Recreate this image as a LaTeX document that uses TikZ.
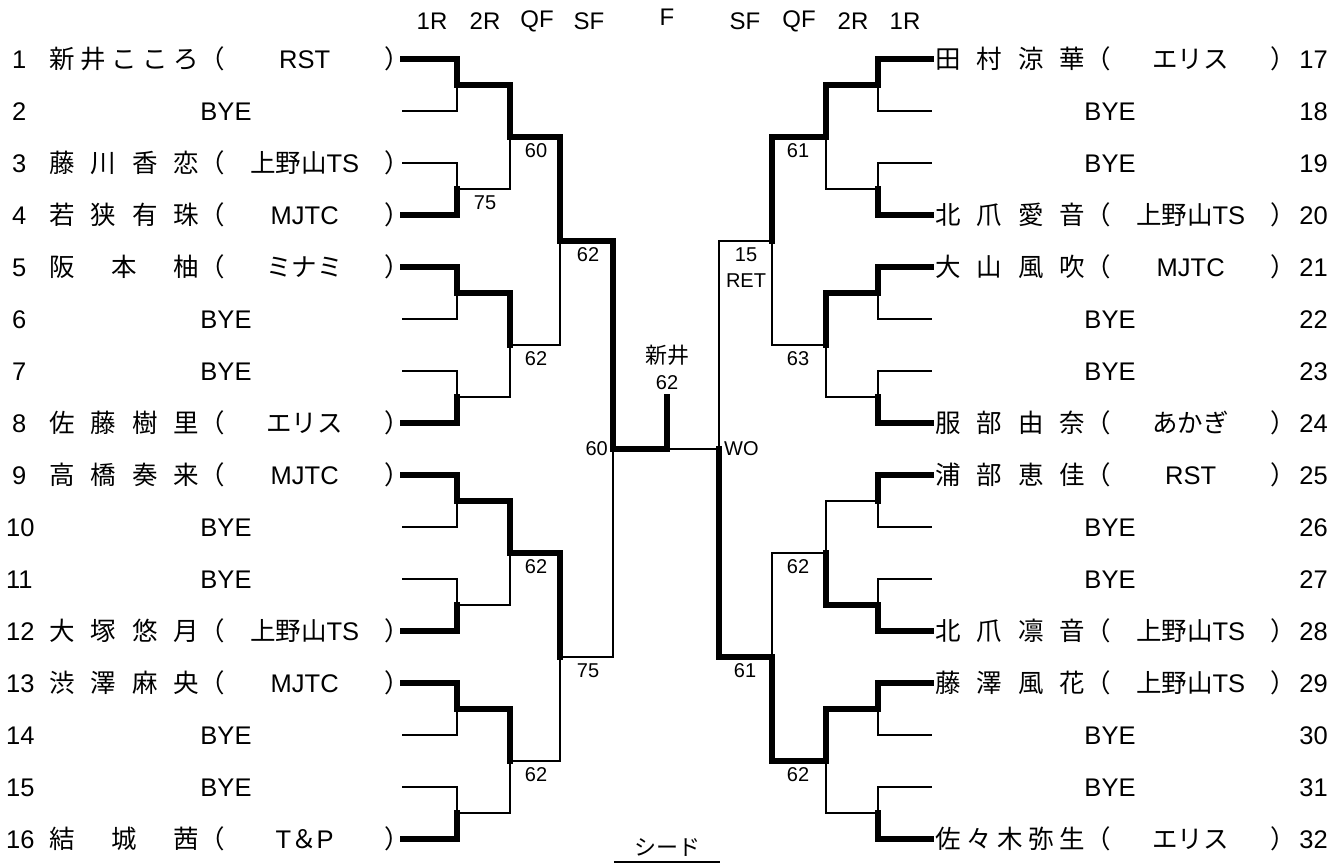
\documentclass[tikz,border=0pt]{standalone}
\usepackage{fontspec}
\setmainfont{Liberation Sans}
\newfontfamily\jp{Noto Sans CJK JP}

\newcommand{\entrytext}[2]{\makebox[150pt][s]{\jp\spaceskip=0pt plus 1fil #1}{\jp （}\makebox[160pt]{#2}{\jp ）}}
\newcommand{\bout}[3]{\draw[loseline] (#2) -| (#3); \draw[winline] (#1) -| (#3);}

\tikzset{
  winline/.style={line width=5.4pt, line cap=rect},
  loseline/.style={line width=2.2pt, line cap=rect},
  entry/.style={inner sep=0pt, text height=21pt, text depth=3pt, font=\fontsize{25.5}{29}\selectfont},
  score/.style={inner sep=0pt, font=\fontsize{20}{23}\selectfont},
  rnd/.style={inner sep=0pt, font=\fontsize{24}{28}\selectfont},
}

\begin{document}
\begin{tikzpicture}[x=1pt, y=-1pt]
\useasboundingbox (0,0) rectangle (1342,865);

% slots and match points
\foreach \i in {1,...,16}{
  \pgfmathsetmacro\yy{59+52*(\i-1)}
  \coordinate (L0-\i) at (403,\yy);
  \coordinate (R0-\i) at (931,\yy);
}
\foreach \k/\xl/\xr/\n in {1/457/878/8, 2/510/826/4, 3/560/772/2, 4/613/719/1}
  \foreach \j in {1,...,\n}{
    \pgfmathsetmacro\yy{59+26*(2^\k-1)+52*2^\k*(\j-1)}
    \coordinate (L\k-\j) at (\xl,\yy);
    \coordinate (R\k-\j) at (\xr,\yy);
  }
\coordinate (F) at (667,449);
\coordinate (Ftop) at (667,397);

% header
\foreach \t/\x [count=\c] in {1R/432, 2R/485, QF/537, SF/589, SF/745, QF/799, 2R/853, 1R/905}
  \node[rnd] (hd\c) at (\x,21) {\t};
\node[rnd] (hdF) at (667,17) {F};

% entries
\begin{scope}[every node/.style={entry, anchor=west}]
\foreach \i/\nm/\cl in {1/{新 井 こ こ ろ}/RST, 3/{藤 川 香 恋}/{{\jp 上野山}TS},
    4/{若 狭 有 珠}/MJTC, 5/{阪 本 柚}/{{\jp ミナミ}}, 8/{佐 藤 樹 里}/{{\jp エリス}},
    9/{高 橋 奏 来}/MJTC, 12/{大 塚 悠 月}/{{\jp 上野山}TS}, 13/{渋 澤 麻 央}/MJTC,
    16/{結 城 茜}/{T{\jp ＆}P}}{
  \pgfmathsetmacro\yy{59+52*(\i-1)}
  \node (pL\i) at (49,\yy) {\entrytext{\nm}{\cl}};
}
\foreach \i/\nm/\cl in {1/{田 村 涼 華}/{{\jp エリス}}, 4/{北 爪 愛 音}/{{\jp 上野山}TS},
    5/{大 山 風 吹}/MJTC, 8/{服 部 由 奈}/{{\jp あかぎ}}, 9/{浦 部 恵 佳}/RST,
    12/{北 爪 凛 音}/{{\jp 上野山}TS}, 13/{藤 澤 風 花}/{{\jp 上野山}TS},
    16/{佐 々 木 弥 生}/{{\jp エリス}}}{
  \pgfmathsetmacro\yy{59+52*(\i-1)}
  \node (pR\i) at (935,\yy) {\entrytext{\nm}{\cl}};
}
\foreach \i in {1,...,16}{
  \pgfmathsetmacro\yy{59+52*(\i-1)}
  \pgfmathsetmacro\nx{\i<10 ? 12 : 6}
  \pgfmathtruncatemacro\pn{\i+16}
  \node (nL\i) at (\nx,\yy) {\i};
  \node[anchor=east] (nR\i) at (1328,\yy) {\pn};
}
\end{scope}
\foreach \i in {2,6,7,10,11,14,15}{
  \pgfmathsetmacro\yy{59+52*(\i-1)}
  \node[entry] (bL\i) at (226,\yy) {BYE};
}
\foreach \i in {2,3,6,7,10,11,14,15}{
  \pgfmathsetmacro\yy{59+52*(\i-1)}
  \node[entry] (bR\i) at (1110,\yy) {BYE};
}

% 1R
\foreach \s in {L,R}
  \foreach \w/\l/\r in {1/2/1, 4/3/2, 5/6/3, 8/7/4, 9/10/5, 12/11/6, 13/14/7, 16/15/8}
    \bout{\s0-\w}{\s0-\l}{\s1-\r};
% 2R
\foreach \w/\l/\r in {1/2/1, 3/4/2, 5/6/3, 7/8/4} \bout{L1-\w}{L1-\l}{L2-\r};
\foreach \w/\l/\r in {1/2/1, 3/4/2, 6/5/3, 7/8/4} \bout{R1-\w}{R1-\l}{R2-\r};
% QF
\foreach \w/\l/\r in {1/2/1, 3/4/2} \bout{L2-\w}{L2-\l}{L3-\r};
\foreach \w/\l/\r in {1/2/1, 4/3/2} \bout{R2-\w}{R2-\l}{R3-\r};
% SF
\bout{L3-1}{L3-2}{L4-1}
\bout{R3-2}{R3-1}{R4-1}
% F
\draw[loseline] (R4-1) -- (F);
\draw[winline] (L4-1) -- (F) -- (Ftop);

% scores
\begin{scope}[every node/.style=score]
\node (s1) at (485,203) {75};
\node (s2) at (536,151) {60};
\node (s3) at (588,255) {62};
\node (s4) at (536,359) {62};
\node (s5) at (536,567) {62};
\node (s6) at (588,671) {75};
\node (s7) at (536,775) {62};
\node[anchor=east] (s8) at (608,449) {60};
\node (s9) at (798,151) {61};
\node (s10) at (746,255) {15};
\node (s11) at (746,281) {RET};
\node (s12) at (798,359) {63};
\node (s13) at (798,567) {62};
\node (s14) at (745,671) {61};
\node (s15) at (798,775) {62};
\node[anchor=west] (s16) at (724,449) {WO};
\node[rnd, font=\fontsize{22}{26}\selectfont] (champ) at (667,355) {\jp 新井};
\node (s17) at (667,383) {62};
\end{scope}

\node[rnd, font=\fontsize{22}{26}\selectfont, anchor=south, text height=18pt, text depth=6pt, minimum width=106pt] (seed) at (667,862) {\jp シード};
\draw[line width=2.5pt] (seed.south west) -- (seed.south east);
\end{tikzpicture}
\end{document}
